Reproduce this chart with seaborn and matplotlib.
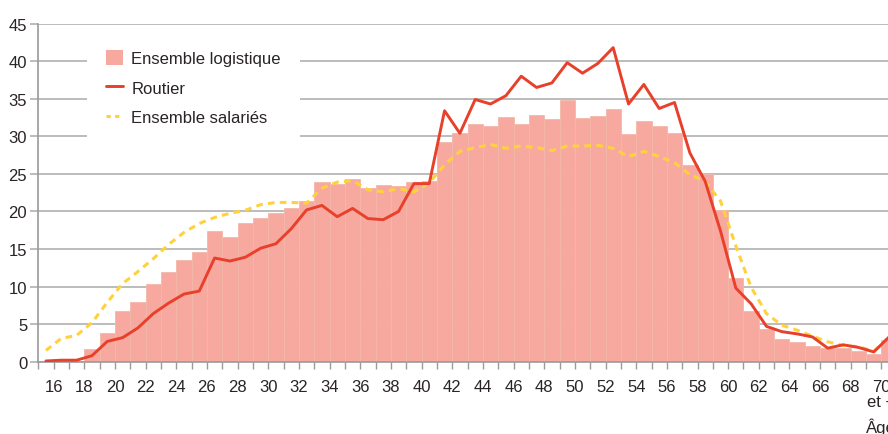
import numpy as np
import pandas as pd
import matplotlib
matplotlib.use("Agg")
import matplotlib.pyplot as plt
import seaborn as sns
from matplotlib.patches import Patch
from matplotlib.lines import Line2D

ages = list(range(15, 71))  # 70 = "70 et +"
logistique = [0.15, 0.1, 0.15, 1.7, 3.8, 6.7, 8.0, 10.4, 12.0, 13.5,
              14.6, 17.4, 16.6, 18.4, 19.1, 19.8, 20.5, 21.4, 23.9, 23.7,
              24.3, 23.1, 23.5, 23.4, 23.9, 24.1, 29.3, 30.5, 31.7, 31.4,
              32.6, 31.7, 32.9, 32.3, 34.8, 32.5, 32.7, 33.6, 30.3, 32.0,
              31.4, 30.5, 26.2, 25.0, 20.2, 11.1, 6.7, 4.3, 3.0, 2.6,
              2.1, 1.85, 1.8, 1.36, 1.0, 2.95]
routier = [0.1, 0.2, 0.2, 0.8, 2.7, 3.2, 4.5, 6.4, 7.8, 9.0,
           9.4, 13.8, 13.4, 13.9, 15.1, 15.7, 17.7, 20.2, 20.8, 19.3,
           20.4, 19.05, 18.9, 20.0, 23.7, 23.7, 33.4, 30.4, 34.9, 34.3,
           35.4, 38.0, 36.5, 37.1, 39.8, 38.4, 39.7, 41.8, 34.3, 36.9,
           33.7, 34.5, 27.8, 24.0, 17.4, 9.8, 7.7, 4.7, 4.0, 3.7,
           3.3, 1.8, 2.25, 1.9, 1.3, 3.3]
salaries = [1.5, 3.1, 3.5, 5.2, 7.9, 10.4, 12.0, 13.7, 15.6, 17.2,
            18.4, 19.2, 19.75, 20.15, 20.9, 21.2, 21.2, 21.1, 23.1, 23.9,
            24.1, 22.9, 22.6, 23.05, 22.6, 23.8, 26.2, 28.0, 28.5, 28.9,
            28.4, 28.7, 28.5, 28.1, 28.7, 28.7, 28.8, 28.4, 27.3, 28.0,
            27.3, 26.5, 24.9, 24.0, 21.4, 15.4, 9.9, 6.4, 4.85, 4.2,
            3.4, 2.65, 2.15, 2.0, 1.4, 3.3]
tick_ages = list(range(16, 71, 2))
tick_labels = [str(a) for a in tick_ages[:-1]] + ["70\net +"]
legend_labels = ["Ensemble logistique", "Routier", "Ensemble salariés"]

BAR = "#F7A9A0"
RED = "#E8402A"
YEL = "#FFD23C"
GRID = "#B0B0B0"
TXT = "#2A2424"

sns.set_theme(style="white")
plt.rcParams["font.family"] = ["Liberation Sans Narrow", "Liberation Sans", "DejaVu Sans"]

df = pd.DataFrame({"age": ages, "logistique": logistique,
                   "routier": routier, "salaries": salaries})
df["centre"] = df["age"] + 0.5

W, H = 888, 435
fig = plt.figure(figsize=(W / 100, H / 100), dpi=100)
x0, x1 = 38.3, 896.8
y0, y1 = 362.7, 24.6
ax = fig.add_axes([x0 / W, 1 - y0 / H, (x1 - x0) / W, (y0 - y1) / H])

sns.barplot(data=df, x="centre", y="logistique", native_scale=True, width=1,
            color=BAR, saturation=1, edgecolor="#F3B8AA", linewidth=0.6,
            errorbar=None, ax=ax, zorder=2)
sns.lineplot(data=df, x="centre", y="salaries", color=YEL, lw=2.2, ax=ax, zorder=3)
ax.lines[-1].set_linestyle((0, (2.2, 1.7)))
sns.lineplot(data=df, x="centre", y="routier", color=RED, lw=2.1, ax=ax, zorder=4)

ax.set_xlim(15, 71)
ax.set_ylim(0, 45)
ax.set_yticks(range(0, 46, 5))
ax.set_xticks(tick_ages)
ax.set_xticklabels(tick_labels)
ax.set_xticks(range(15, 72, 2), minor=True)
ax.set_xlabel("")
ax.set_ylabel("")

ax.yaxis.grid(True, color=GRID, lw=1.2, zorder=0)
ax.set_axisbelow(True)
for s in ["top", "right"]:
    ax.spines[s].set_visible(False)
for s in ["left", "bottom"]:
    ax.spines[s].set_color("#9A9A9A")
    ax.spines[s].set_linewidth(1.2)
ax.tick_params(axis="y", which="major", length=6, width=1.2, color=GRID,
               pad=2, labelsize=12, labelcolor=TXT, left=True)
ax.tick_params(axis="x", which="both", length=5.3, width=1.0, color="#9A9A9A",
               pad=7.5, labelsize=12, labelcolor=TXT, bottom=True, direction="out")
for t in ax.get_xticklabels():
    t.set_linespacing(0.95)

handles = [Patch(facecolor=BAR, edgecolor="none"),
           Line2D([0], [0], color=RED, lw=2.1),
           Line2D([0], [0], color=YEL, lw=2.2, linestyle=(0, (1.4, 1.4)))]
leg = ax.legend(handles, legend_labels, loc="upper left",
                bbox_to_anchor=(87 / W, 1 - 32 / H), bbox_transform=fig.transFigure,
                frameon=True, facecolor="white", edgecolor="none", framealpha=1,
                fontsize=12, handlelength=1.0, handleheight=1.0, handletextpad=0.5,
                labelspacing=0.80, borderpad=1.15, borderaxespad=0)
for t in leg.get_texts():
    t.set_color(TXT)

fig.text(866 / W, 1 - 427 / H, "Âge", fontsize=12, color=TXT, ha="left", va="center")

fig.savefig("out.png", dpi=100)
